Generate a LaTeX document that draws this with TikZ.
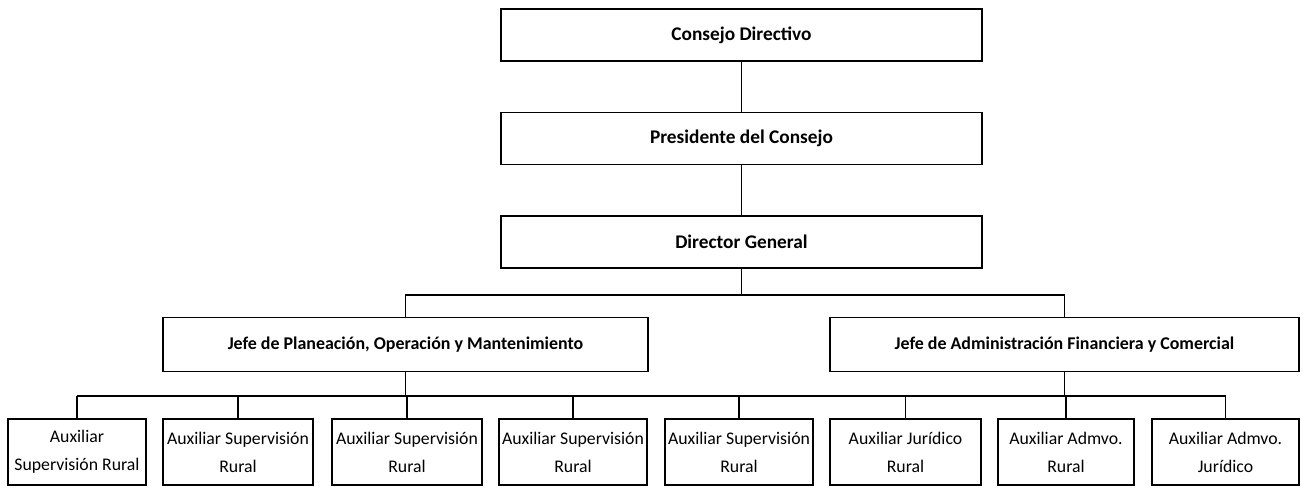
\documentclass[tikz,border=0pt]{standalone}
\usepackage{fontspec}
\setmainfont{Carlito}
\begin{document}
\begin{tikzpicture}[x=0.02cm, y=-0.02cm, line width=0.8pt,
        head/.style = {draw, inner sep=0pt,
            minimum width = 9.62cm,
            minimum height = 1.04cm,
            font = \fontsize{11}{13}\selectfont\bfseries,
        },
        jefe/.style = {draw, inner sep=0pt,
            minimum height = 1.08cm,
            font = \fontsize{10.2}{13}\selectfont\bfseries,
        },
        aux/.style = {draw, inner sep=0pt, align=center,
            minimum height = 1.32cm,
            font = \fontsize{10.1}{16}\selectfont,
        }]

    \useasboundingbox (0,0) rectangle (1303,490);

    % Top of the chart
    \node[head] (consejo) at (741.5,35) {Consejo Directivo};
    \node[head] (presidente) at (741.5,138.5) {Presidente del Consejo};
    \node[head] (director) at (741.5,242) {Director General};

    % Heads
    \node[jefe, minimum width=9.7cm] (planeacion) at (405.5,344.5) {Jefe de Planeación, Operación y Mantenimiento};
    \node[jefe, minimum width=9.38cm] (administracion) at (1064.5,344.5) {Jefe de Administración Financiera y Comercial};

    % Auxiliaries
    \node[aux, minimum width=2.76cm] (aux1) at (77,452) {Auxiliar\\Supervisión Rural};
    \node[aux, minimum width=3cm] (aux2) at (238,452) {Auxiliar Supervisión\\Rural};
    \node[aux, minimum width=3cm] (aux3) at (407,452) {Auxiliar Supervisión\\Rural};
    \node[aux, minimum width=2.96cm] (aux4) at (573,452) {Auxiliar Supervisión\\Rural};
    \node[aux, minimum width=2.96cm] (aux5) at (739,452) {Auxiliar Supervisión\\Rural};
    \node[aux, minimum width=3.02cm] (aux6) at (905.5,452) {Auxiliar Jurídico\\Rural};
    \node[aux, minimum width=2.72cm] (aux7) at (1066,452) {Auxiliar Admvo.\\Rural};
    \node[aux, minimum width=2.94cm] (aux8) at (1225.5,452) {Auxiliar Admvo.\\Jurídico};

    % Connectors
    \coordinate (upper) at (0,295);
    \coordinate (lower) at (0,396);

    \draw (consejo) -- (presidente);
    \draw (presidente) -- (director);
    \draw (director.south) -- (director.south |- upper);
    \draw (planeacion.north) -- (planeacion.north |- upper) -- (administracion.north |- upper) -- (administracion.north);

    \draw (planeacion.south) -- (planeacion.south |- lower);
    \draw (administracion.south) -- (administracion.south |- lower);
    \draw (aux1.north |- lower) -- (aux8.north |- lower);
    \draw (aux1.north) -- (aux1.north |- lower);
    \draw (aux2.north) -- (aux2.north |- lower);
    \draw (aux3.north) -- (aux3.north |- lower);
    \draw (aux4.north) -- (aux4.north |- lower);
    \draw (aux5.north) -- (aux5.north |- lower);
    \draw (aux6.north) -- (aux6.north |- lower);
    \draw (aux7.north) -- (aux7.north |- lower);
    \draw (aux8.north) -- (aux8.north |- lower);

\end{tikzpicture}
\end{document}
